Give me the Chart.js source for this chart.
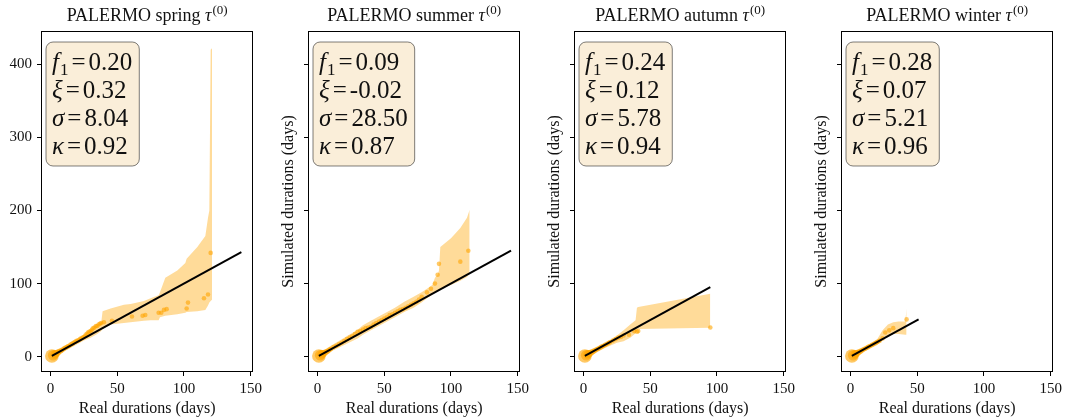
<!DOCTYPE html>
<html><head><meta charset="utf-8">
<script src="https://cdn.jsdelivr.net/npm/chart.js@4"></script>
<style>
html,body{margin:0;padding:0;background:#fff;overflow:hidden;}
#wrap{position:relative;width:1068px;height:418px;background:#fff;}
canvas{position:absolute;top:0;}
</style></head><body>
<div id="wrap">
<canvas id="c0" width="266" height="418" style="left:0px"></canvas>
<canvas id="c1" width="266" height="418" style="left:267px"></canvas>
<canvas id="c2" width="266" height="418" style="left:533px"></canvas>
<canvas id="c3" width="266" height="418" style="left:800px"></canvas>
</div>
<script>
// ---------- data ----------
const seasons = ['spring', 'summer', 'autumn', 'winter'];
const xTicks = [0, 50, 100, 150];
const yTicks = [0, 100, 200, 300, 400];

// parameter boxes
const statF1    = ['0.20', '0.09', '0.24', '0.28'];
const statXi    = ['0.32', '-0.02', '0.12', '0.07'];
const statSigma = ['8.04', '28.50', '5.78', '5.21'];
const statKappa = ['0.92', '0.87', '0.94', '0.96'];

// y = x reference line end points
const lineEnds = [[1, 143], [1, 145], [1, 95], [1, 51]];

// spring
const springBandX  = [1, 5, 10, 15, 20, 25, 30, 35, 38, 39, 45, 55, 60, 70, 75, 81, 82, 86, 95, 101, 102, 110, 116, 118, 119, 120, 121];
const springBandLo = [-1, 2, 7, 12, 17, 22, 26, 31, 35, 38, 44, 46, 47, 49, 50, 50, 54, 56, 58, 60, 61, 62, 64, 70, 74, 76, 78];
const springBandHi = [3, 8, 14, 19, 24, 30, 37, 43, 47, 62, 66, 71, 72, 76, 80, 84, 88, 108, 118, 128, 134, 150, 165, 190, 200, 420, 422];
const springPtsX = [1, 2, 3, 4, 5, 6, 7, 8, 9, 10, 11, 12, 13, 14, 15, 16, 17, 18, 19, 20, 21, 22, 23, 24, 25, 26, 27, 28, 29, 30, 31, 32, 33, 34, 35, 36, 37, 38, 40, 46, 61, 69, 71, 81, 83, 85, 87, 102, 103, 115, 118, 120];
const springPtsY = [1, 2, 3, 4, 5, 6.5, 7.5, 8.5, 9.5, 11, 12, 13, 14, 15, 16.5, 17.5, 18.5, 20, 21, 22, 22.5, 24, 25, 26, 27, 29, 31, 33, 34, 35, 37, 39, 40, 42, 42, 44, 45, 46, 47, 49, 55, 56, 57, 60, 60, 64, 65, 66, 74, 80, 85, 142];

// summer
const summerBandX  = [1, 10, 20, 30, 34, 40, 50, 58, 65, 72, 78, 82, 86, 88, 90, 91, 92, 100, 107, 112, 114];
const summerBandLo = [-2, 7, 16, 25, 30, 36, 46, 54, 61, 67, 74, 80, 85, 88, 90, 91, 93, 98, 104, 109, 114];
const summerBandHi = [4, 15, 26, 37, 43, 49, 59, 67, 75, 82, 88, 93, 98, 108, 112, 118, 150, 162, 176, 190, 201];
const summerPtsX = [1, 2, 3, 4, 5, 6, 7, 8, 9, 10, 12, 14, 16, 18, 20, 22, 24, 26, 28, 30, 32, 34, 36, 38, 40, 42, 44, 46, 48, 50, 52, 54, 56, 58, 60, 62, 64, 66, 68, 70, 72, 74, 76, 78, 82, 85, 88, 90, 91, 107, 113];
const summerPtsY = [1, 2, 3, 4, 5, 6, 7, 8, 9.5, 10.5, 13, 15, 17, 19, 21.5, 24, 26, 28, 31, 34, 35, 37, 39, 40, 41, 44, 46, 48, 50, 52, 54, 57, 58, 60, 62, 64, 65, 67, 69, 71, 73, 75, 78, 82, 88, 93, 100, 112, 127, 130, 145];

// autumn
const autumnBandX  = [1, 8, 16, 25, 30, 35, 39, 40, 41, 95];
const autumnBandLo = [-3, 4, 12, 19, 21, 26, 32, 36, 38, 39.5];
const autumnBandHi = [4, 11, 18, 29, 36, 44, 50, 67, 68, 86];
const autumnPtsX = [1, 2, 3, 4, 5, 6, 7, 8, 9, 10, 11, 12, 13, 14, 15, 16, 17, 18, 19, 20, 22, 24, 26, 28, 30, 34, 38, 40, 41, 95];
const autumnPtsY = [1, 2, 3, 4, 5, 6, 7, 8, 9, 10, 11, 12, 13, 14, 15, 16, 17, 18, 19, 20, 22, 24, 26, 27, 29, 30, 35, 34, 35, 40];

// winter
const winterBandX  = [1, 5, 10, 15, 20, 24, 28, 32, 36, 41, 42];
const winterBandLo = [-2, 2, 7, 12, 16, 24, 28, 31, 31, 30, 30];
const winterBandHi = [4, 8, 13, 18, 24, 36, 44, 47, 48, 48, 66];
const winterPtsX = [1, 2, 3, 4, 5, 6, 7, 8, 9, 10, 11, 12, 13, 14, 15, 16, 17, 18, 19, 20, 21, 22, 24, 26, 29, 32, 42];
const winterPtsY = [1, 2, 3, 4, 5, 6, 7, 8, 9, 10, 11, 12, 13, 14, 15, 16, 17, 18, 19, 20, 21, 22, 25, 33, 36, 39, 51];

const bandX  = [springBandX, summerBandX, autumnBandX, winterBandX];
const bandLo = [springBandLo, summerBandLo, autumnBandLo, winterBandLo];
const bandHi = [springBandHi, summerBandHi, autumnBandHi, winterBandHi];
const ptsX = [springPtsX, summerPtsX, autumnPtsX, winterPtsX];
const ptsY = [springPtsY, summerPtsY, autumnPtsY, winterPtsY];

// ---------- drawing ----------
const FONT = '"Liberation Serif", "Times New Roman", serif';
const TXT = '#111';

const framePlugin = {
  id: 'frame',
  afterDatasetsDraw(chart) {
    const {ctx, chartArea: a} = chart;
    ctx.save();
    ctx.strokeStyle = '#000';
    ctx.lineWidth = 1;
    ctx.strokeRect(Math.round(a.left) - 0.5, Math.round(a.top) - 0.5, Math.round(a.right - a.left) + 1, Math.round(a.bottom - a.top) + 1);
    ctx.restore();
  }
};

function drawParts(ctx, parts, x, y) {
  for (const p of parts) {
    ctx.font = p.f;
    ctx.fillText(p.t, x + (p.ml || 0), y + (p.dy || 0));
    x += (p.ml || 0) + ctx.measureText(p.t).width + (p.mr || 0);
  }
  return x;
}
function measureParts(ctx, parts) {
  let w = 0;
  for (const p of parts) { ctx.font = p.f; w += (p.ml || 0) + ctx.measureText(p.t).width + (p.mr || 0); }
  return w;
}

const annotPlugin = {
  id: 'annot',
  afterDraw(chart, args, opts) {
    const {ctx, chartArea: a} = chart;
    const i = opts.idx;
    ctx.save();
    ctx.fillStyle = TXT;
    ctx.textBaseline = 'alphabetic';
    ctx.textAlign = 'left';
    // title
    const tparts = [
      {t: 'PALERMO ' + seasons[i] + ' ', f: '18px ' + FONT},
      {t: 'τ', f: 'italic 18px ' + FONT},
      {t: '(0)', f: '13px ' + FONT, dy: -7, ml: 1}
    ];
    const tw = measureParts(ctx, tparts);
    drawParts(ctx, tparts, (a.left + a.right) / 2 - tw / 2, 21);

    // stats box
    const big = '25px ' + FONT, ital = 'italic 25px ' + FONT, sub = '17px ' + FONT;
    const eq = {t: '=', f: big, ml: 3, mr: 3};
    const lines = [
      [{t: 'f', f: ital}, {t: '1', f: sub, dy: 5, ml: 1}, eq, {t: statF1[i], f: big}],
      [{t: 'ξ', f: ital}, eq, {t: statXi[i], f: big}],
      [{t: 'σ', f: ital}, eq, {t: statSigma[i], f: big}],
      [{t: 'κ', f: ital}, eq, {t: statKappa[i], f: big}]
    ];
    let maxW = 0;
    for (const l of lines) maxW = Math.max(maxW, measureParts(ctx, l));
    const bx = a.left + 4, by = a.top + 10, bw = maxW + 13, bh = 124, r = 7;
    ctx.beginPath();
    ctx.moveTo(bx + r, by);
    ctx.arcTo(bx + bw, by, bx + bw, by + bh, r);
    ctx.arcTo(bx + bw, by + bh, bx, by + bh, r);
    ctx.arcTo(bx, by + bh, bx, by, r);
    ctx.arcTo(bx, by, bx + bw, by, r);
    ctx.closePath();
    ctx.fillStyle = 'rgba(245,222,179,0.5)';
    ctx.fill();
    ctx.strokeStyle = 'rgba(0,0,0,0.5)';
    ctx.lineWidth = 1;
    ctx.stroke();
    ctx.fillStyle = TXT;
    lines.forEach((l, k) => drawParts(ctx, l, bx + 6, a.top + 38 + 28 * k));
    ctx.restore();
  }
};

function makeChart(i) {
  const lo = bandX[i].map((x, k) => ({x: x, y: bandLo[i][k]}));
  const hi = bandX[i].map((x, k) => ({x: x, y: bandHi[i][k]}));
  const pts = ptsX[i].map((x, k) => ({x: x, y: ptsY[i][k]}));
  const line = lineEnds[i].map(v => ({x: v, y: v}));
  const tickGrid = {drawOnChartArea: false, drawTicks: true, tickLength: 5, tickColor: '#000', tickWidth: 1};
  new Chart(document.getElementById('c' + i), {
    type: 'line',
    data: {datasets: [
      {data: line, borderColor: '#000', borderWidth: 2, pointRadius: 0, fill: false, order: 0},
      {data: pts, showLine: false, fill: false, order: 1,
       pointRadius: c => (c.raw ? 2.3 + 4.5 * Math.exp(-(c.raw.x - 1) / 2.5) : 2.3),
       pointBackgroundColor: 'rgba(255,165,0,0.6)', pointBorderWidth: 0, pointBorderColor: 'rgba(0,0,0,0)'},
      {data: hi, borderColor: 'rgba(0,0,0,0)', borderWidth: 0, pointRadius: 0, fill: 3, backgroundColor: 'rgba(255,165,0,0.4)', order: 2},
      {data: lo, borderColor: 'rgba(0,0,0,0)', borderWidth: 0, pointRadius: 0, fill: false, order: 3}
    ]},
    options: {
      responsive: false, animation: false, events: [],
      layout: {padding: {top: 32, right: 2, left: 0, bottom: 0}},
      plugins: {legend: {display: false}, tooltip: {enabled: false}, title: {display: false}, annot: {idx: i}},
      scales: {
        x: {
          type: 'linear', min: -6.4, max: 151.2,
          afterBuildTicks: s => { s.ticks = xTicks.map(v => ({value: v})); },
          afterFit: s => { s.height = 47; },
          grid: tickGrid, border: {display: false},
          ticks: {color: TXT, font: {family: FONT, size: 15}, padding: 4, maxRotation: 0, callback: v => String(v)},
          title: {display: true, text: 'Real durations (days)', color: TXT, font: {family: FONT, size: 16}, padding: {top: 0, bottom: 0}}
        },
        y: {
          type: 'linear', min: -19.6, max: 444.2,
          afterBuildTicks: s => { s.ticks = yTicks.map(v => ({value: v})); },
          afterFit: s => { s.width = 42; },
          grid: tickGrid, border: {display: false},
          ticks: {display: i === 0, color: TXT, font: {family: FONT, size: 15}, padding: 5, callback: v => String(v)},
          title: {display: i > 0, text: 'Simulated durations (days)', color: TXT, font: {family: FONT, size: 16}, padding: {top: 12, bottom: 0}}
        }
      }
    },
    plugins: [framePlugin, annotPlugin]
  });
}
for (let i = 0; i < 4; i++) makeChart(i);
</script>
</body></html>
